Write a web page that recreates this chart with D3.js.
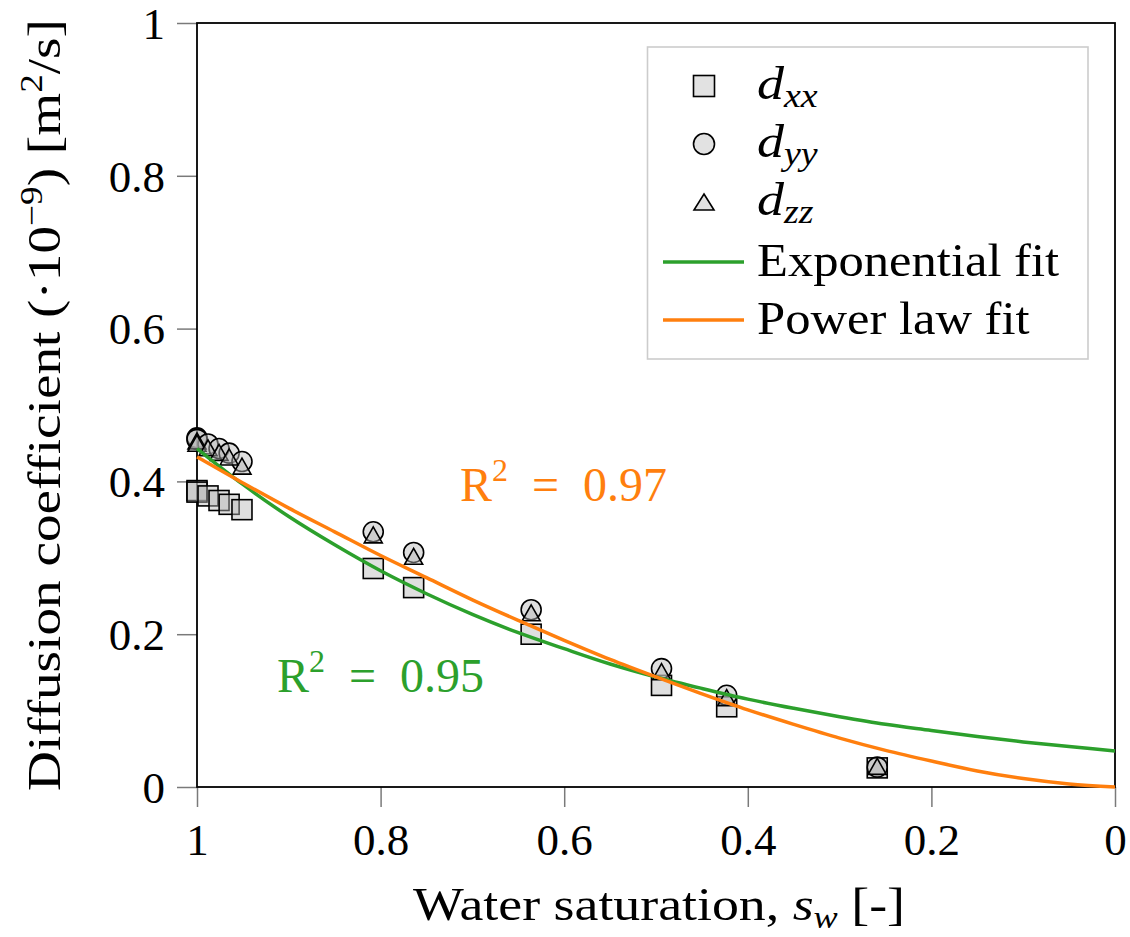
<!DOCTYPE html>
<html>
<head>
<meta charset="utf-8">
<script src="https://cdn.jsdelivr.net/npm/d3@7/dist/d3.min.js"></script>
<style>
  html, body { margin: 0; padding: 0; background: #fff; }
  svg { display: block; }
  text { font-family: "Liberation Serif", "Times New Roman", serif; fill: #000; }
</style>
</head>
<body>
<svg id="chart" width="1130" height="937"></svg>
<script>
// ---- data ----
const saturation = [1.0, 1.0, 0.988, 0.976, 0.965, 0.951, 0.808, 0.764, 0.636, 0.494, 0.423, 0.259];
const dxx = [0.388, 0.386, 0.381, 0.375, 0.370, 0.363, 0.286, 0.261, 0.200, 0.133, 0.105, 0.025];
const dyy = [0.457, 0.455, 0.449, 0.443, 0.437, 0.426, 0.334, 0.307, 0.232, 0.155, 0.120, 0.026];
const dzz = [0.453, 0.450, 0.444, 0.438, 0.432, 0.420, 0.330, 0.302, 0.228, 0.151, 0.117, 0.027];

const curveSat = [1.0, 0.95, 0.9, 0.85, 0.8, 0.75, 0.7, 0.65, 0.6, 0.55, 0.5, 0.45, 0.4, 0.35, 0.3, 0.25, 0.2, 0.15, 0.1, 0.05, 0.0];
const expFit   = [0.443, 0.396, 0.354, 0.317, 0.283, 0.253, 0.226, 0.202, 0.181, 0.161, 0.144, 0.129, 0.115, 0.103, 0.092, 0.082, 0.074, 0.066, 0.059, 0.053, 0.047];
const powFit   = [0.432, 0.398, 0.365, 0.334, 0.303, 0.274, 0.245, 0.218, 0.192, 0.167, 0.144, 0.122, 0.101, 0.082, 0.064, 0.048, 0.034, 0.021, 0.011, 0.004, 0.000];

const xTicks = [1, 0.8, 0.6, 0.4, 0.2, 0];
const xTickLabels = ["1", "0.8", "0.6", "0.4", "0.2", "0"];
const yTicks = [0, 0.2, 0.4, 0.6, 0.8, 1];
const yTickLabels = ["0", "0.2", "0.4", "0.6", "0.8", "1"];

const seriesNames = ["dxx", "dyy", "dzz"];
const fitNames = ["Exponential fit", "Power law fit"];
const fitColors = ["#2ca02c", "#ff7f0e"];

(function () {
// ---- layout ----
const pLeft = 197, pRight = 1115, pTop = 23, pBottom = 787;
const svg = d3.select("#chart");
const x = d3.scaleLinear().domain([1, 0]).range([pLeft, pRight]);
const y = d3.scaleLinear().domain([0, 1]).range([pBottom, pTop]);

// axes
const xAxis = d3.axisBottom(x).tickValues(xTicks).tickFormat((d, i) => xTickLabels[i]).tickSize(20).tickPadding(16);
const yAxis = d3.axisLeft(y).tickValues(yTicks).tickFormat((d, i) => yTickLabels[i]).tickSize(20).tickPadding(12);

const gx = svg.append("g").attr("transform", `translate(0,${pBottom})`).call(xAxis);
const gy = svg.append("g").attr("transform", `translate(${pLeft},0)`).call(yAxis);
[gx, gy].forEach(g => {
  g.select(".domain").remove();
  g.selectAll(".tick line").attr("stroke", "#7a7a7a").attr("stroke-width", 1.5);
  g.selectAll(".tick text").attr("font-family", "Liberation Serif").attr("font-size", 45).attr("fill", "#000");
});
gx.selectAll(".tick text").attr("dy", "0.71em");
gy.selectAll(".tick text").attr("dy", "0.34em");

// frame
svg.append("rect").attr("x", pLeft).attr("y", pTop).attr("width", pRight - pLeft).attr("height", pBottom - pTop)
  .attr("fill", "none").attr("stroke", "#000").attr("stroke-width", 1.8);

// markers
const plot = svg.append("g");
const markerFill = "#b8b8b8";
const sq = 20;
plot.selectAll("rect.dxx").data(saturation).enter().append("rect")
  .attr("x", (d) => x(d) - sq / 2).attr("y", (d, i) => y(dxx[i]) - sq / 2)
  .attr("width", sq).attr("height", sq)
  .attr("fill", markerFill).attr("fill-opacity", 0.45).attr("stroke", "#000").attr("stroke-width", 1.6);
plot.selectAll("circle.dyy").data(saturation).enter().append("circle")
  .attr("cx", (d) => x(d)).attr("cy", (d, i) => y(dyy[i])).attr("r", 10)
  .attr("fill", markerFill).attr("fill-opacity", 0.45).attr("stroke", "#000").attr("stroke-width", 1.6);
const tri = (cx, cy, w, h) => `M${cx},${cy - h / 2}L${cx + w / 2},${cy + h / 2}L${cx - w / 2},${cy + h / 2}Z`;
plot.selectAll("path.dzz").data(saturation).enter().append("path")
  .attr("d", (d, i) => tri(x(d), y(dzz[i]), 18, 16))
  .attr("fill", markerFill).attr("fill-opacity", 0.45).attr("stroke", "#000").attr("stroke-width", 1.6);

// fit curves
const line = d3.line().x((d) => x(d[0])).y((d) => y(d[1])).curve(d3.curveMonotoneX);
[expFit, powFit].forEach((vals, k) => {
  svg.append("path").datum(curveSat.map((s, i) => [s, vals[i]]))
    .attr("d", line).attr("fill", "none").attr("stroke", fitColors[k]).attr("stroke-width", 3.5);
});

// R² annotations
function r2Label(xPos, yBase, value, color) {
  const t = svg.append("text").attr("x", xPos).attr("y", yBase).attr("font-size", 48).style("fill", color);
  t.append("tspan").text("R");
  t.append("tspan").attr("dy", -20).attr("font-size", 32).text("2");
  t.append("tspan").attr("dy", 20).text("\u2002=\u2002" + value);
}
r2Label(460, 501, "0.97", fitColors[1]);
r2Label(277, 692, "0.95", fitColors[0]);

// axis labels (stretched horizontally to match the wider original typeface)
const xl = svg.append("text").attr("transform", "translate(659,920) scale(1.17,1)").attr("text-anchor", "middle").attr("font-size", 46);
xl.append("tspan").text("Water saturation, ");
xl.append("tspan").attr("font-style", "italic").text("s");
xl.append("tspan").attr("font-style", "italic").attr("font-size", 31).attr("dy", 8).text("w");
xl.append("tspan").attr("dy", -8).text(" [-]");

const yl = svg.append("text").attr("transform", "translate(60,405) rotate(-90) scale(1.2,1)").attr("text-anchor", "middle").attr("font-size", 46);
yl.append("tspan").text("Diffusion coefficient (\u00B710");
yl.append("tspan").attr("dy", -18).attr("font-size", 31).text("\u22129");
yl.append("tspan").attr("dy", 18).text(") [m");
yl.append("tspan").attr("dy", -18).attr("font-size", 31).text("2");
yl.append("tspan").attr("dy", 18).text("/s]");

// legend
const lg = svg.append("g");
lg.append("rect").attr("x", 647.5).attr("y", 47).attr("width", 440.5).attr("height", 312)
  .attr("fill", "#fff").attr("stroke", "#cccccc").attr("stroke-width", 1.6);
const legendRowY = [86, 144, 202, 262, 320];
const mx = 704, tx = 757;
lg.append("rect").attr("x", mx - 10.5).attr("y", legendRowY[0] - 10.5).attr("width", 21).attr("height", 21)
  .attr("fill", "#e2e2e2").attr("stroke", "#000").attr("stroke-width", 1.6);
lg.append("circle").attr("cx", mx).attr("cy", legendRowY[1]).attr("r", 10.5)
  .attr("fill", "#e2e2e2").attr("stroke", "#000").attr("stroke-width", 1.6);
lg.append("path").attr("d", tri(mx, legendRowY[2], 20, 16))
  .attr("fill", "#e2e2e2").attr("stroke", "#000").attr("stroke-width", 1.6);
const subs = ["xx", "yy", "zz"];
seriesNames.forEach((n, i) => {
  const t = lg.append("text").attr("transform", `translate(${tx},${legendRowY[i] + 13}) scale(1.15,1)`)
    .attr("font-size", 47).attr("font-style", "italic");
  t.append("tspan").text("d");
  t.append("tspan").attr("font-size", 33).attr("dy", 8).text(subs[i]);
});
fitNames.forEach((n, k) => {
  const ry = legendRowY[3 + k];
  lg.append("line").attr("x1", 663).attr("x2", 744).attr("y1", ry).attr("y2", ry)
    .attr("stroke", fitColors[k]).attr("stroke-width", 3.5);
  lg.append("text").attr("transform", `translate(${tx},${ry + 14}) scale(1.1,1)`).attr("font-size", 46).text(n);
});
})();
</script>
</body>
</html>
